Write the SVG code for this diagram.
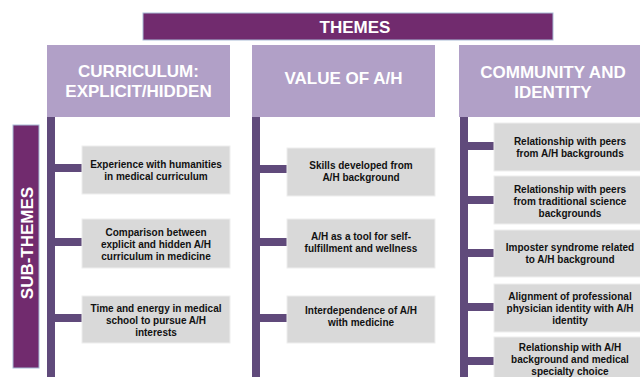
<svg xmlns="http://www.w3.org/2000/svg" width="640" height="377" viewBox="0 0 640 377">
<style>
.hdr{fill:#712b6e;stroke:#a9bcd6;stroke-width:1}
.theme{fill:#b1a0c7}
.sub{fill:#d9d9d9;stroke:#eeeeee;stroke-width:1}
.line{fill:#604a7b}
.wt{font-family:"Liberation Sans",Arial,sans-serif;font-weight:bold;font-size:17px;fill:#ffffff;text-anchor:middle}
.bt{font-family:"Liberation Sans",Arial,sans-serif;font-weight:bold;font-size:10px;fill:#111111;text-anchor:middle}
</style>
<rect width="640" height="377" fill="#ffffff"/>
<g id="themes-header">
<rect class="hdr" x="143" y="13" width="410" height="27"/>
<text class="wt" x="355" y="33">THEMES</text>
</g>
<g id="subthemes-label">
<rect class="hdr" x="13" y="125" width="26" height="243"/>
<text class="wt" transform="translate(33,243) rotate(-90)">SUB-THEMES</text>
</g>
<g id="connectors">
<rect class="line" x="47" y="117" width="8" height="260"/>
<rect class="line" x="55" y="164" width="27" height="8"/>
<rect class="line" x="55" y="238" width="27" height="8"/>
<rect class="line" x="55" y="314" width="27" height="8"/>
<rect class="line" x="252" y="117" width="8" height="260"/>
<rect class="line" x="260" y="165" width="27" height="8"/>
<rect class="line" x="260" y="238" width="27" height="8"/>
<rect class="line" x="260" y="314" width="27" height="8"/>
<rect class="line" x="460" y="117" width="8" height="260"/>
<rect class="line" x="468" y="142" width="26" height="8"/>
<rect class="line" x="468" y="196" width="26" height="8"/>
<rect class="line" x="468" y="249" width="26" height="8"/>
<rect class="line" x="468" y="303" width="26" height="8"/>
<rect class="line" x="468" y="357" width="26" height="8"/>
</g>
<g id="theme-curriculum">
<rect class="theme" x="47" y="45" width="183" height="72"/>
<text class="wt" x="138.5" y="77">CURRICULUM:</text>
<text class="wt" x="138.5" y="97">EXPLICIT/HIDDEN</text>
</g>
<g id="theme-value">
<rect class="theme" x="252" y="45" width="183" height="72"/>
<text class="wt" x="343.5" y="84">VALUE OF A/H</text>
</g>
<g id="theme-community">
<rect class="theme" x="459" y="45" width="190" height="72"/>
<text class="wt" x="553" y="78">COMMUNITY AND</text>
<text class="wt" x="553" y="98">IDENTITY</text>
</g>
<g id="sub-1-1">
<rect class="sub" x="82" y="146" width="148" height="48"/>
<text class="bt" x="156" y="168">Experience with humanities</text>
<text class="bt" x="156" y="180">in medical curriculum</text>
</g>
<g id="sub-1-2">
<rect class="sub" x="82" y="219" width="148" height="49"/>
<text class="bt" x="156" y="236">Comparison between</text>
<text class="bt" x="156" y="248">explicit and hidden A/H</text>
<text class="bt" x="156" y="260">curriculum in medicine</text>
</g>
<g id="sub-1-3">
<rect class="sub" x="82" y="296" width="148" height="47"/>
<text class="bt" x="156" y="312">Time and energy in medical</text>
<text class="bt" x="156" y="324">school to pursue A/H</text>
<text class="bt" x="156" y="336">interests</text>
</g>
<g id="sub-2-1">
<rect class="sub" x="287" y="148" width="148" height="48"/>
<text class="bt" x="361" y="169">Skills developed from</text>
<text class="bt" x="361" y="181">A/H background</text>
</g>
<g id="sub-2-2">
<rect class="sub" x="287" y="219" width="148" height="49"/>
<text class="bt" x="361" y="240">A/H as a tool for self-</text>
<text class="bt" x="361" y="252">fulfillment and wellness</text>
</g>
<g id="sub-2-3">
<rect class="sub" x="287" y="296" width="148" height="47"/>
<text class="bt" x="361" y="314">Interdependence of A/H</text>
<text class="bt" x="361" y="326">with medicine</text>
</g>
<g id="sub-3-1">
<rect class="sub" x="494" y="123" width="152" height="48"/>
<text class="bt" x="570" y="145">Relationship with peers</text>
<text class="bt" x="570" y="157">from A/H backgrounds</text>
</g>
<g id="sub-3-2">
<rect class="sub" x="494" y="176" width="152" height="48"/>
<text class="bt" x="570" y="193">Relationship with peers</text>
<text class="bt" x="570" y="205">from traditional science</text>
<text class="bt" x="570" y="217">backgrounds</text>
</g>
<g id="sub-3-3">
<rect class="sub" x="494" y="230" width="152" height="47"/>
<text class="bt" x="570" y="251">Imposter syndrome related</text>
<text class="bt" x="570" y="263">to A/H background</text>
</g>
<g id="sub-3-4">
<rect class="sub" x="494" y="284" width="152" height="48"/>
<text class="bt" x="570" y="300">Alignment of professional</text>
<text class="bt" x="570" y="312">physician identity with A/H</text>
<text class="bt" x="570" y="324">identity</text>
</g>
<g id="sub-3-5">
<rect class="sub" x="494" y="337" width="152" height="48"/>
<text class="bt" x="570" y="351">Relationship with A/H</text>
<text class="bt" x="570" y="363">background and medical</text>
<text class="bt" x="570" y="375">specialty choice</text>
</g>
</svg>
